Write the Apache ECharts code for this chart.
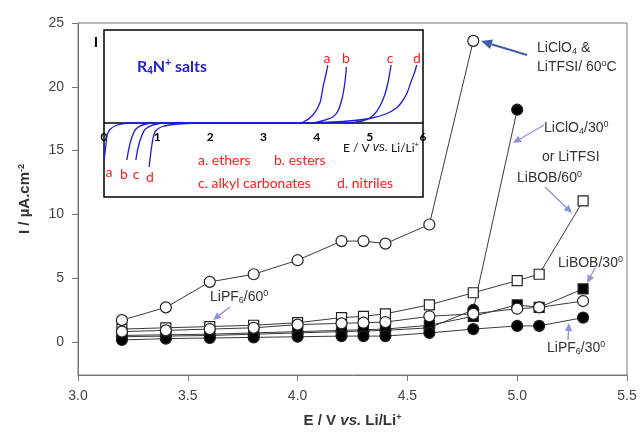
<!DOCTYPE html>
<html>
<head>
    <meta charset="UTF-8">
    <title>Anodic stability of Li salts</title>
    <script type="text/javascript" src="https://cdn.jsdelivr.net/npm/echarts@6/dist/echarts.min.js"></script>
</head>
<body style="margin:0;overflow:hidden;background:#fff">
<div id="main" style="width:640px;height:432px"></div>
<script type="text/javascript">
    // main plot: current density vs potential
    var potentials = [3.2, 3.4, 3.6, 3.8, 4.0, 4.2, 4.3, 4.4, 4.6, 4.8, 5.0, 5.1, 5.3];
    var licloTfsi60 = [1.7, 2.7, 4.7, 5.3, 6.4, 7.9, 7.9, 7.7, 9.2, 23.6];
    var liclo30 = [0.4, 0.45, 0.5, 0.6, 0.7, 0.8, 0.85, 0.9, 1.1, 2.5, 18.2];
    var libob60 = [1.0, 1.1, 1.2, 1.3, 1.5, 1.9, 2.0, 2.2, 2.9, 3.85, 4.8, 5.3, 11.05];
    var libob30 = [0.5, 0.55, 0.6, 0.7, 0.8, 0.9, 0.95, 1.0, 1.3, 2.0, 2.9, 2.7, 4.15];
    var lipf60 = [0.8, 0.9, 1.0, 1.1, 1.35, 1.45, 1.5, 1.55, 2.0, 2.2, 2.6, 2.7, 3.2];
    var lipf30 = [0.15, 0.25, 0.3, 0.35, 0.4, 0.45, 0.45, 0.45, 0.7, 1.0, 1.25, 1.25, 1.9];
    var yTicks = [0, 5, 10, 15, 20, 25];

    // inset: R4N+ salts in different solvents (arbitrary current)
    var insetA = [[0.0, -3.7], [0.03, -2.5], [0.06, -1.2], [0.12, -0.6], [0.25, -0.2], [0.5, 0], [3.6, 0],
        [3.75, 0.1], [3.93, 0.8], [4.06, 2.0], [4.12, 3.6], [4.18, 5.0], [4.21, 5.8]];
    var insetB = [[0.43, -3.7], [0.47, -2.5], [0.52, -1.5], [0.6, -0.6], [0.75, -0.15], [1.0, 0], [3.9, 0],
        [4.1, 0.2], [4.3, 0.6], [4.4, 1.2], [4.48, 2.5], [4.53, 4.0], [4.56, 5.6]];
    var insetC = [[0.6, -3.7], [0.64, -2.5], [0.7, -1.4], [0.78, -0.6], [0.95, -0.15], [1.2, 0], [4.6, 0],
        [4.85, 0.2], [5.0, 0.5], [5.12, 1.1], [5.2, 1.8], [5.28, 2.8], [5.34, 4.0], [5.38, 5.2], [5.4, 5.8]];
    var insetD = [[0.85, -4.4], [0.88, -3.0], [0.92, -1.6], [0.97, -0.8], [1.1, -0.35], [1.4, -0.1], [2.0, 0],
        [3.5, 0], [4.5, 0.15], [5.0, 0.45], [5.3, 0.9], [5.5, 1.5], [5.6, 2.1], [5.7, 3.0], [5.78, 4.2],
        [5.85, 5.2], [5.88, 5.8]];

    var FONT = 'Liberation Sans, Arial, sans-serif';
    var INSET_FONT = 'Lato, Open Sans, sans-serif';

    function pairs(ys) {
        return ys.map(function (v, i) {
            return [potentials[i], v];
        });
    }

    function markSeries(name, ys, symbol, filled, size) {
        return {
            name: name,
            type: 'line',
            xAxisIndex: 0,
            yAxisIndex: 0,
            data: pairs(ys),
            symbol: symbol,
            symbolSize: size,
            showSymbol: true,
            lineStyle: {color: '#3a3a3a', width: 1},
            itemStyle: {color: filled ? '#000' : '#fff', borderColor: '#222', borderWidth: 1.2},
            emphasis: {disabled: true},
            animation: false
        };
    }

    function insetSeries(name, pts) {
        return {
            name: name,
            type: 'line',
            xAxisIndex: 1,
            yAxisIndex: 1,
            data: pts,
            smooth: 0.3,
            showSymbol: false,
            z: 6,
            lineStyle: {color: '#1c1ce0', width: 1.3},
            emphasis: {disabled: true},
            animation: false
        };
    }

    function arrow(x1, y1, x2, y2, color, w, hl) {
        var ang = Math.atan2(y2 - y1, x2 - x1);
        var hw = hl * 0.45;
        var bx = x2 - hl * Math.cos(ang), by = y2 - hl * Math.sin(ang);
        return [{
            type: 'line', z: 20,
            shape: {x1: x1, y1: y1, x2: bx, y2: by},
            style: {stroke: color, lineWidth: w}
        }, {
            type: 'polygon', z: 20,
            shape: {
                points: [[x2, y2], [bx + hw * Math.sin(ang), by - hw * Math.cos(ang)],
                    [bx - hw * Math.sin(ang), by + hw * Math.cos(ang)]]
            },
            style: {fill: color}
        }];
    }

    var richSub = {
        sub: {fontSize: 9, verticalAlign: 'bottom', fill: '#333', fontFamily: FONT},
        sup: {fontSize: 9, verticalAlign: 'top', fill: '#333', fontFamily: FONT}
    };

    function label(x, y, text) {
        return {
            type: 'text', z: 20, x: x, y: y,
            style: {
                text: text, fill: '#333', fontSize: 14, fontFamily: FONT,
                verticalAlign: 'middle', lineHeight: 16, rich: richSub
            }
        };
    }

    function red(x, y, text, align) {
        return {
            type: 'text', z: 20, x: x, y: y,
            style: {
                text: text, fill: '#ff1a1a', fontSize: 14, fontFamily: INSET_FONT,
                verticalAlign: 'middle', align: align || 'left'
            }
        };
    }

    var blue1 = '#3e5ea8', blue2 = '#8c93d8';
    var graphics = []
        .concat(arrow(527, 55, 481, 41, blue1, 2, 11))
        .concat(arrow(544, 125, 513, 143, blue2, 1.3, 8))
        .concat(arrow(545, 187, 572, 213, blue2, 1.3, 8))
        .concat(arrow(595, 268, 587, 283, blue2, 1.3, 8))
        .concat(arrow(568, 340, 569, 323, blue2, 1.3, 8))
        .concat(arrow(230, 307, 213, 320, blue2, 1.3, 8))
        .concat([
            label(537, 48, 'LiClO{sub|4} &'),
            label(537, 67, 'LiTFSI/ 60{sup|o}C'),
            label(544, 128, 'LiClO{sub|4}/30{sup|0}'),
            label(542, 157, 'or LiTFSI'),
            label(517, 178, 'LiBOB/60{sup|0}'),
            label(558, 263, 'LiBOB/30{sup|0}'),
            label(547, 348, 'LiPF{sub|6}/30{sup|0}'),
            label(210, 297, 'LiPF{sub|6}/60{sup|0}'),
            {
                type: 'text', z: 20, x: 137, y: 67,
                style: {
                    text: 'R{s|4}N{p|+} salts', fill: '#2222cc', fontSize: 16, fontWeight: 'bold',
                    fontFamily: INSET_FONT, verticalAlign: 'middle', lineHeight: 18,
                    rich: {
                        s: {fontSize: 10, fontWeight: 'bold', verticalAlign: 'bottom', fill: '#2222cc'},
                        p: {fontSize: 10, fontWeight: 'bold', verticalAlign: 'top', fill: '#2222cc'}
                    }
                }
            },
            {
                type: 'text', z: 20, x: 94, y: 43,
                style: {text: 'I', fill: '#000', fontSize: 14, fontWeight: 'bold', fontFamily: FONT, verticalAlign: 'middle'}
            },
            {
                type: 'text', z: 20, x: 343, y: 148,
                style: {
                    text: 'E / V {i|vs.} Li/Li{p|+}', fill: '#111', fontSize: 12, fontFamily: INSET_FONT,
                    verticalAlign: 'middle', lineHeight: 14,
                    rich: {
                        i: {fontStyle: 'italic', fontSize: 12, fill: '#111'},
                        p: {fontSize: 8, verticalAlign: 'top', fill: '#111'}
                    }
                }
            },
            red(327, 58, 'a', 'center'), red(346, 58, 'b', 'center'),
            red(390, 58, 'c', 'center'), red(417, 58, 'd', 'center'),
            red(109, 172, 'a', 'center'), red(124, 174, 'b', 'center'),
            red(136, 174, 'c', 'center'), red(150, 177, 'd', 'center'),
            red(198, 160, 'a. ethers'), red(274, 160, 'b. esters'),
            red(198, 183, 'c. alkyl carbonates'), red(337, 183, 'd. nitriles')
        ]);

    var chart = echarts.init(document.getElementById('main'), null, {renderer: 'canvas'});
    var option = {
        backgroundColor: '#fff',
        animation: false,
        grid: [
            {left: 78, right: 13, top: 23, bottom: 57, show: true, borderColor: '#777', borderWidth: 1,
                outerBoundsMode: 'none', containLabel: false},
            {left: 104, width: 319, top: 30, height: 167, show: true, borderColor: '#000', borderWidth: 1.5,
                backgroundColor: '#fff', outerBoundsMode: 'none', containLabel: false}
        ],
        xAxis: [{
            gridIndex: 0,
            type: 'value',
            min: 3.0, max: 5.5, interval: 0.5,
            name: 'E / V {i|vs.} Li/Li{p|+}',
            nameLocation: 'middle',
            nameGap: 38,
            nameTextStyle: {
                fontSize: 15, fontWeight: 'bold', color: '#333', fontFamily: FONT,
                rich: {
                    i: {fontSize: 15, fontWeight: 'bold', fontStyle: 'italic', color: '#333', fontFamily: FONT},
                    p: {fontSize: 9, fontWeight: 'bold', verticalAlign: 'top', color: '#333', fontFamily: FONT}
                }
            },
            axisLine: {onZero: false, lineStyle: {color: '#777', width: 1}},
            axisTick: {show: true, inside: false, length: 6, lineStyle: {color: '#777'}},
            axisLabel: {
                fontSize: 14, color: '#444', fontFamily: FONT, margin: 14,
                formatter: function (v) { return v.toFixed(1); }
            },
            splitLine: {show: false}
        }, {
            gridIndex: 1,
            type: 'value',
            min: 0, max: 6, interval: 1,
            offset: -74,
            axisLine: {onZero: false, lineStyle: {color: '#000', width: 1.5}},
            axisTick: {show: false},
            axisLabel: {fontSize: 12, fontWeight: 'bold', color: '#000', fontFamily: INSET_FONT, margin: 8},
            splitLine: {show: false}
        }],
        yAxis: [{
            gridIndex: 0,
            type: 'value',
            min: -2.6, max: 25,
            name: 'I / µA.cm{p|-2}',
            nameLocation: 'middle',
            nameGap: 46,
            nameRotate: 90,
            nameTextStyle: {
                fontSize: 15, fontWeight: 'bold', color: '#333', fontFamily: FONT,
                rich: {p: {fontSize: 9, fontWeight: 'bold', verticalAlign: 'top', color: '#333', fontFamily: FONT}}
            },
            axisLine: {show: true, onZero: false, lineStyle: {color: '#777', width: 1}},
            axisTick: {show: true, inside: false, length: 6, customValues: yTicks, lineStyle: {color: '#777'}},
            axisLabel: {fontSize: 14, color: '#444', fontFamily: FONT, margin: 14, customValues: yTicks},
            splitLine: {show: false}
        }, {
            gridIndex: 1,
            type: 'value',
            min: -7.4, max: 9.3,
            axisLine: {show: false},
            axisTick: {show: false},
            axisLabel: {show: false},
            splitLine: {show: false}
        }],
        series: [
            markSeries('LiBOB/60', libob60, 'rect', false, 10),
            markSeries('LiClO4/30 or LiTFSI', liclo30, 'circle', true, 11),
            markSeries('LiBOB/30', libob30, 'rect', true, 10),
            markSeries('LiPF6/30', lipf30, 'circle', true, 11),
            markSeries('LiPF6/60', lipf60, 'circle', false, 11),
            markSeries('LiClO4 & LiTFSI/60', licloTfsi60, 'circle', false, 11),
            insetSeries('a', insetA),
            insetSeries('b', insetB),
            insetSeries('c', insetC),
            insetSeries('d', insetD)
        ],
        graphic: graphics
    };
    chart.setOption(option);
</script>
</body>
</html>
